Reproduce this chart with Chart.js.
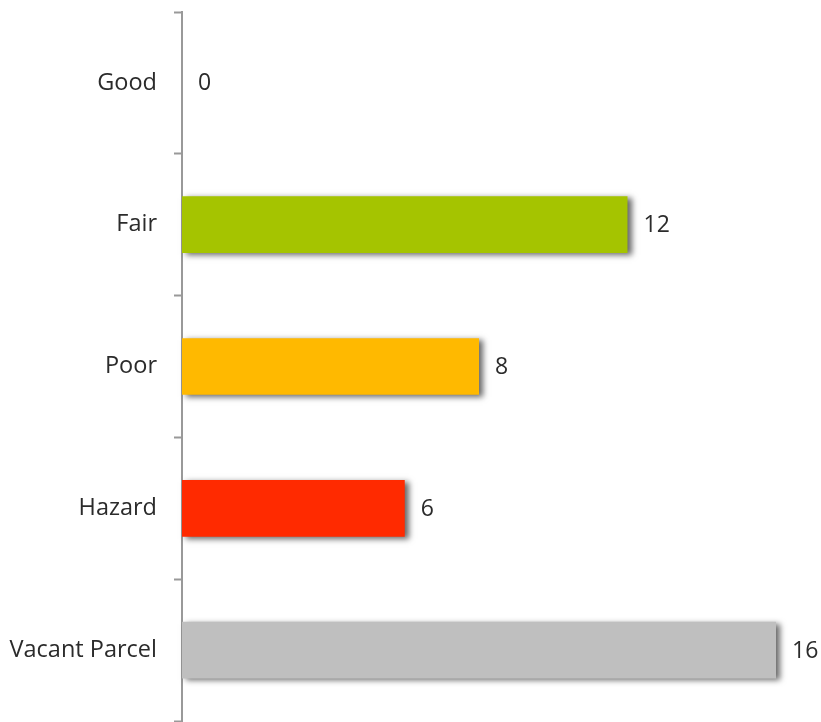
<!DOCTYPE html>
<html>
<head>
<meta charset="utf-8">
<script src="https://cdn.jsdelivr.net/npm/chart.js@4/dist/chart.umd.min.js"></script>
<style>
    html, body { margin: 0; padding: 0; background: #fff; }
    #wrap { width: 821px; height: 722px; }
</style>
</head>
<body>
<div id="wrap"><canvas id="myChart" width="821" height="722"></canvas></div>
<script>
const categories = ["Good", "Fair", "Poor", "Hazard", "Vacant Parcel"];
const counts = [0, 12, 8, 6, 16];
const barColors = ["#A5C400", "#A5C400", "#FFB900", "#FF2A00", "#BFBFBF"];

const axisGray = "#999999";
const textColor = "#2b2b2b";
const fontFamily = "'Open Sans', 'Liberation Sans', sans-serif";

// soft drop shadow under each bar
const barShadow = {
    id: "barShadow",
    beforeDatasetDraw(chart) {
        const ctx = chart.ctx;
        ctx.save();
        ctx.shadowColor = "rgba(0,0,0,0.6)";
        ctx.shadowBlur = 6;
        ctx.shadowOffsetX = 4;
        ctx.shadowOffsetY = 2;
    },
    afterDatasetDraw(chart) {
        chart.ctx.restore();
    }
};

// value printed just past the end of each bar
const valueLabels = {
    id: "valueLabels",
    afterDatasetsDraw(chart) {
        const ctx = chart.ctx;
        const meta = chart.getDatasetMeta(0);
        ctx.save();
        ctx.font = "23px " + fontFamily;
        ctx.fillStyle = textColor;
        ctx.textAlign = "left";
        ctx.textBaseline = "middle";
        meta.data.forEach((bar, i) => {
            ctx.fillText(String(counts[i]), bar.x + 16, bar.y + 1);
        });
        ctx.restore();
    }
};

var ctx = document.getElementById("myChart");
var config = {
    type: "bar",
    data: {
        labels: categories,
        datasets: [{
            data: counts,
            backgroundColor: barColors,
            borderWidth: 0,
            categoryPercentage: 1,
            barPercentage: 0.4,
            clip: 12
        }]
    },
    options: {
        indexAxis: "y",
        responsive: false,
        animation: false,
        layout: {
            padding: { top: 12, bottom: 1, right: 45, left: 0 }
        },
        plugins: {
            legend: { display: false },
            tooltip: { enabled: false }
        },
        scales: {
            x: {
                display: false,
                min: 0,
                max: 16
            },
            y: {
                afterFit: scale => {
                    scale.width = 182;
                    scale.paddingTop = 0;
                    scale.paddingBottom = 0;
                },
                border: { display: true, color: axisGray, width: 2 },
                grid: {
                    offset: true,
                    drawOnChartArea: false,
                    drawTicks: true,
                    tickLength: 8,
                    tickWidth: 2,
                    color: axisGray
                },
                ticks: {
                    padding: 17,
                    color: textColor,
                    font: { family: fontFamily, size: 23.5 }
                }
            }
        }
    },
    plugins: [barShadow, valueLabels]
};
var myChart = new Chart(ctx, config);
</script>
</body>
</html>
